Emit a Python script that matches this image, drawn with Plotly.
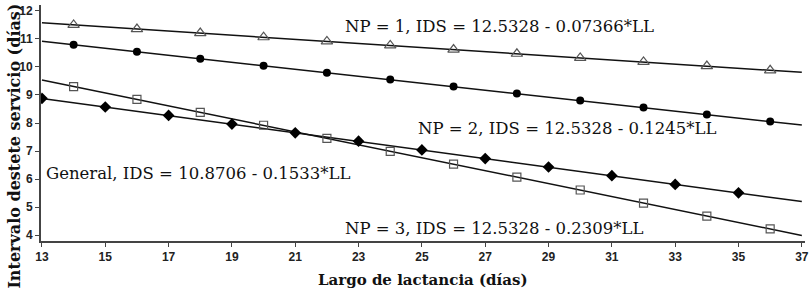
import plotly.graph_objects as go

# Observed / predicted points
x_np = [14, 16, 18, 20, 22, 24, 26, 28, 30, 32, 34, 36]
np1_vals = [11.50, 11.35, 11.21, 11.06, 10.91, 10.77, 10.62, 10.47, 10.32, 10.18, 10.03, 9.88]
np2_vals = [10.79, 10.54, 10.29, 10.04, 9.79, 9.55, 9.30, 9.05, 8.80, 8.55, 8.30, 8.05]
np3_vals = [9.30, 8.84, 8.38, 7.92, 7.45, 6.99, 6.53, 6.07, 5.61, 5.14, 4.68, 4.22]
x_gen = [13, 15, 17, 19, 21, 23, 25, 27, 29, 31, 33, 35]
gen_vals = [8.88, 8.57, 8.27, 7.96, 7.65, 7.35, 7.04, 6.73, 6.43, 6.12, 5.81, 5.51]

# Regression line end points
line_x = [13, 37]
np1_line = [11.575, 9.807]
np2_line = [10.914, 7.926]
np3_line = [9.531, 3.989]
gen_line = [8.878, 5.198]

x_ticks = [13, 15, 17, 19, 21, 23, 25, 27, 29, 31, 33, 35, 37]
y_ticks = [4, 5, 6, 7, 8, 9, 10, 11, 12]

labels = [
    ("NP = 1, IDS = 12.5328 - 0.07366*LL", 22.5, 11.43),
    ("NP = 2, IDS = 12.5328 - 0.1245*LL", 24.8, 7.82),
    ("General, IDS = 10.8706 - 0.1533*LL", 13.05, 6.21),
    ("NP = 3, IDS = 12.5328 - 0.2309*LL", 22.5, 4.25),
]

fig = go.Figure()
for ly in [np1_line, np2_line, np3_line, gen_line]:
    fig.add_trace(go.Scatter(x=line_x, y=ly, mode="lines",
                             line=dict(color="#111111", width=1.5), showlegend=False))

fig.add_trace(go.Scatter(x=x_np, y=np1_vals, mode="markers",
                         marker=dict(symbol="triangle-up-open", size=10, color="#555555",
                                     line=dict(width=1.2)), showlegend=False))
fig.add_trace(go.Scatter(x=x_np, y=np2_vals, mode="markers",
                         marker=dict(symbol="circle", size=8, color="#000000"), showlegend=False))
fig.add_trace(go.Scatter(x=x_np, y=np3_vals, mode="markers",
                         marker=dict(symbol="square-open", size=8, color="#555555",
                                     line=dict(width=1.2)), showlegend=False))
fig.add_trace(go.Scatter(x=x_gen, y=gen_vals, mode="markers",
                         marker=dict(symbol="diamond", size=9, color="#000000"), showlegend=False))

serif = "DejaVu Serif"
for txt, lx, ly in labels:
    fig.add_annotation(x=lx, y=ly, text=txt, showarrow=False, xanchor="left", yanchor="middle",
                       font=dict(family=serif, size=16.5, color="#111111"))

fig.add_annotation(xref="paper", yref="paper", x=-0.034, y=0.40, text="Intervalo destete servicio (días)",
                   textangle=-90, showarrow=False, xanchor="center", yanchor="middle",
                   font=dict(family=serif, size=16, color="#111111", weight="bold"))
fig.add_annotation(xref="paper", yref="paper", x=0.5, y=-0.165, text="Largo de lactancia (días)",
                   showarrow=False, xanchor="center", yanchor="middle",
                   font=dict(family=serif, size=15, color="#111111", weight="bold"))

tickfont = dict(family="Liberation Sans Narrow, Arial Narrow, Liberation Sans", size=12,
                color="#222222", weight="bold")
fig.update_xaxes(range=[12.97, 37.1], tickvals=x_ticks, ticktext=[str(t) for t in x_ticks],
                 showgrid=False, zeroline=False, showline=True, linecolor="#444444", linewidth=2,
                 ticks="outside", ticklen=4, tickcolor="#444444", tickfont=tickfont, automargin=False)
fig.update_yaxes(range=[3.79, 12.21], tickvals=y_ticks, ticktext=[str(t) for t in y_ticks],
                 showgrid=False, zeroline=False, showline=True, linecolor="#444444", linewidth=2,
                 ticks="outside", ticklen=4, tickcolor="#444444", tickfont=tickfont, automargin=False)
fig.update_layout(width=812, height=291, margin=dict(l=41, r=7, t=5, b=50),
                  plot_bgcolor="white", paper_bgcolor="white")
fig.write_html("out.html", config={"displayModeBar": False},
               post_script="document.body.style.margin='0';document.body.style.overflow='hidden';")
